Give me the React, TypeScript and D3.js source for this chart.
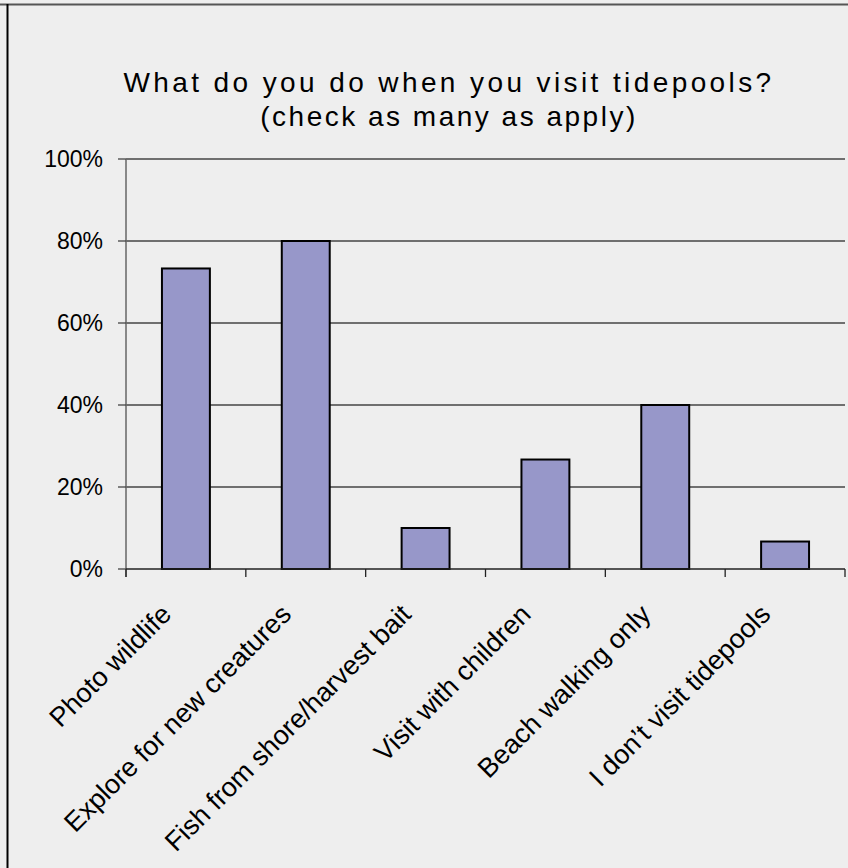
import React from "react";
import * as d3 from "d3";

const categories = [
  "Photo wildlife",
  "Explore for new creatures",
  "Fish from shore/harvest bait",
  "Visit with children",
  "Beach walking only",
  "I don\u2019t visit tidepools",
];
const values = [73.3, 80, 10, 26.7, 40, 6.7];
const yTicks = [0, 20, 40, 60, 80, 100];
const titleLines = ["What do you do when you visit tidepools?", "(check as many as apply)"];

const W = 848;
const H = 868;
const plot = { left: 126, right: 845, top: 159, bottom: 569 };
const FONT = "'Liberation Sans', Arial, sans-serif";

export default function App() {
  const x = d3
    .scaleBand<string>()
    .domain(categories)
    .range([plot.left, plot.right])
    .paddingInner(0.6)
    .paddingOuter(0.3);
  const y = d3.scaleLinear().domain([0, 100]).range([plot.bottom, plot.top]);
  const step = x.step();
  const boundaries = d3.range(categories.length + 1).map((i) => plot.left + i * step);

  return (
    <svg
      width={W}
      height={H}
      style={{ position: "absolute", left: 0, top: 0, display: "block" }}
      fontFamily={FONT}
    >
      <rect x={0} y={0} width={W} height={H} fill="#eeeeee" />
      {/* chart frame */}
      <line x1={0} y1={4.5} x2={W} y2={4.5} stroke="#555" strokeWidth={2} />
      <line x1={7.5} y1={4} x2={7.5} y2={H} stroke="#000" strokeWidth={2} />

      {/* title */}
      <g textAnchor="middle" fontSize={28} fill="#000">
        <text x={449} y={92} letterSpacing={3.4}>{titleLines[0]}</text>
        <text x={449} y={126} letterSpacing={2.5}>{titleLines[1]}</text>
      </g>

      {/* gridlines */}
      {yTicks.filter((t) => t > 0).map((t) => (
        <line key={t} x1={plot.left} x2={plot.right} y1={y(t)} y2={y(t)} stroke="#444" strokeWidth={1.3} />
      ))}

      {/* bars */}
      {values.map((v, i) => (
        <rect
          key={categories[i]}
          x={x(categories[i])!}
          y={y(v)}
          width={x.bandwidth()}
          height={y(0) - y(v)}
          fill="#9797c9"
          stroke="#000"
          strokeWidth={2}
        />
      ))}

      {/* y axis */}
      <line x1={plot.left} x2={plot.left} y1={plot.top} y2={plot.bottom + 8} stroke="#666" strokeWidth={1.5} />
      {yTicks.map((t) => (
        <g key={t}>
          <line x1={plot.left - 8} x2={plot.left} y1={y(t)} y2={y(t)} stroke="#444" strokeWidth={1.3} />
          <text x={plot.left - 23} y={y(t) + 8} textAnchor="end" fontSize={23}>
            {t}%
          </text>
        </g>
      ))}

      {/* x axis */}
      <line x1={plot.left} x2={plot.right} y1={plot.bottom} y2={plot.bottom} stroke="#222" strokeWidth={1.3} />
      {boundaries.map((b, i) => (
        <line key={i} x1={b} x2={b} y1={plot.bottom} y2={plot.bottom + 8} stroke="#222" strokeWidth={1.3} />
      ))}
      {categories.map((c) => {
        const cx = x(c)! + x.bandwidth() / 2;
        return (
          <text
            key={c}
            transform={`translate(${cx - 13},${plot.bottom + 47}) rotate(-45)`}
            textAnchor="end"
            fontSize={27}
          >
            {c}
          </text>
        );
      })}
    </svg>
  );
}
